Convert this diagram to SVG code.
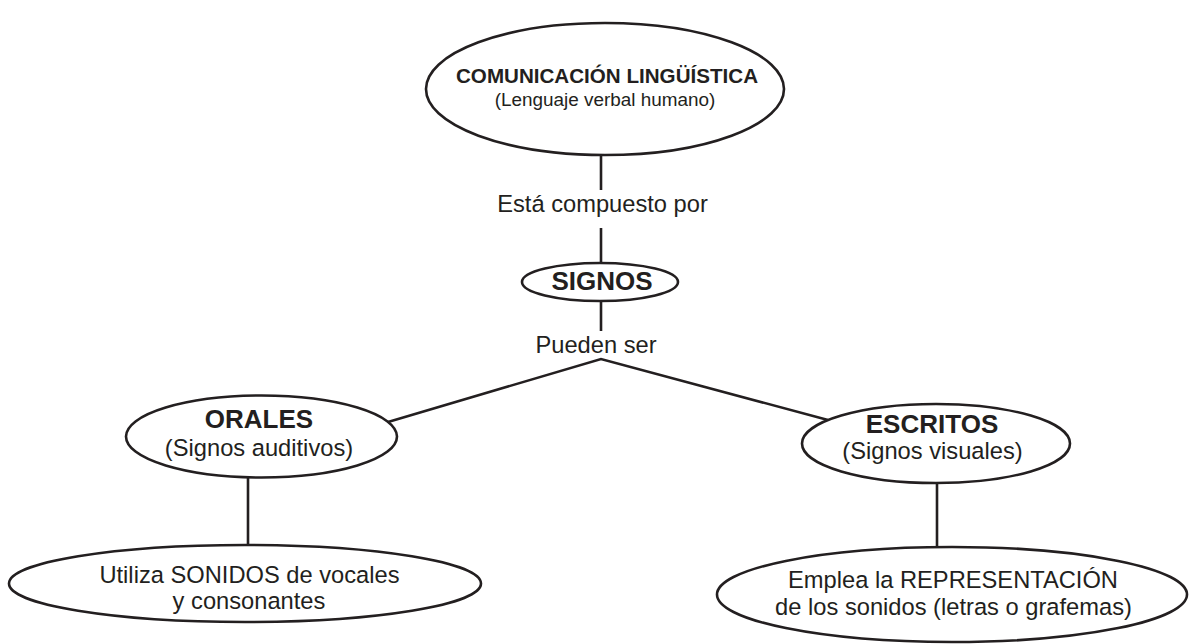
<svg xmlns="http://www.w3.org/2000/svg" width="1192" height="644" viewBox="0 0 1192 644">
  <style>
    .node { fill: #ffffff; stroke: #231f20; stroke-width: 2.6; }
    .conn { stroke: #231f20; stroke-width: 2.6; fill: none; }
    text { font-family: "Liberation Sans", Arial, Helvetica, sans-serif; fill: #231f20; text-anchor: middle; }
    .t { font-size: 23.7px; }
    .b { font-size: 26px; font-weight: bold; }
    .tb { font-size: 20.6px; font-weight: bold; }
    .ts { font-size: 18.9px; }
  </style>
  <rect width="1192" height="644" fill="#ffffff"/>
  <g id="connectors">
    <line class="conn" x1="601" y1="155" x2="601" y2="190"/>
    <line class="conn" x1="601" y1="228" x2="601" y2="263"/>
    <line class="conn" x1="601" y1="301" x2="601" y2="331"/>
    <polyline class="conn" points="388,422 601,359 828,420"/>
    <line class="conn" x1="248" y1="477" x2="248" y2="545"/>
    <line class="conn" x1="937" y1="483" x2="937" y2="547"/>
    <text class="t" x="602.5" y="212">Está compuesto por</text>
    <text class="t" x="596" y="353">Pueden ser</text>
  </g>
  <g id="node-comunicacion">
    <ellipse class="node" cx="605" cy="89" rx="179" ry="66"/>
    <text class="tb" x="607" y="83">COMUNICACIÓN LINGÜÍSTICA</text>
    <text class="ts" x="605" y="106">(Lenguaje verbal humano)</text>
  </g>
  <g id="node-signos">
    <ellipse class="node" cx="600" cy="282" rx="78" ry="19"/>
    <text class="b" x="602" y="290">SIGNOS</text>
  </g>
  <g id="node-orales">
    <ellipse class="node" cx="261.5" cy="436.5" rx="135.5" ry="41"/>
    <text class="b" x="259" y="428">ORALES</text>
    <text class="t" x="259" y="456">(Signos auditivos)</text>
  </g>
  <g id="node-escritos">
    <ellipse class="node" cx="936" cy="443.5" rx="134" ry="39.5"/>
    <text class="b" x="932" y="433">ESCRITOS</text>
    <text class="t" x="932.5" y="459">(Signos visuales)</text>
  </g>
  <g id="node-sonidos">
    <ellipse class="node" cx="245" cy="583.5" rx="236" ry="38.5"/>
    <text class="t" x="249.5" y="582.5">Utiliza SONIDOS de vocales</text>
    <text class="t" x="249" y="609">y consonantes</text>
  </g>
  <g id="node-representacion">
    <ellipse class="node" cx="952" cy="594.5" rx="235" ry="47.5"/>
    <text class="t" x="953" y="587.5">Emplea la REPRESENTACIÓN</text>
    <text class="t" x="953.5" y="614.5">de los sonidos (letras o grafemas)</text>
  </g>
</svg>
